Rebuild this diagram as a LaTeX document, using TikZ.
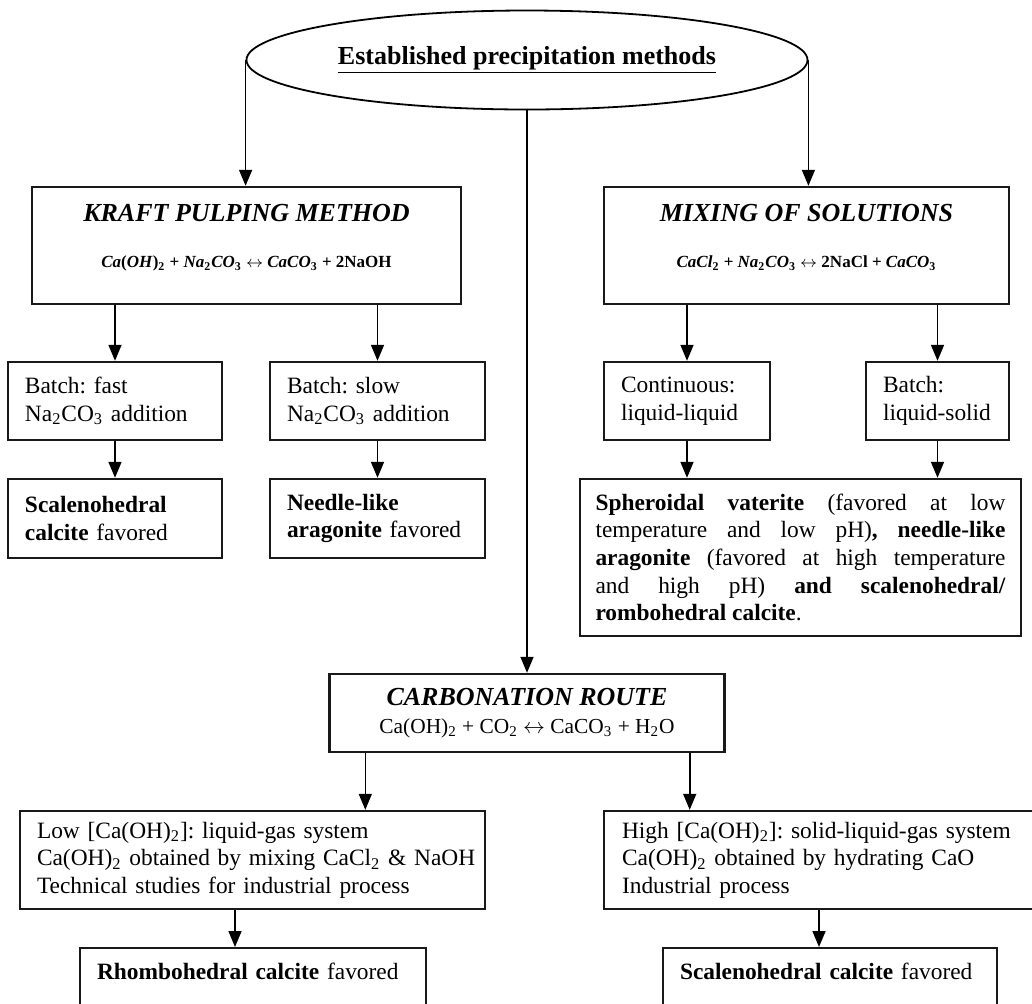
\documentclass[tikz,border=0pt]{standalone}
\usepackage{fontspec}
\setmainfont{Liberation Serif}
\usetikzlibrary{arrows.meta,shapes.geometric}
\frenchspacing

\def\boxlw{1.2pt}
\def\arrlw{0.8pt}
\newcommand{\chsub}[1]{\textsubscript{#1}}
\newcommand{\mtitle}[1]{{\fontsize{13}{14}\selectfont\bfseries\itshape #1}}

\tikzset{
  box/.style={draw=black!90,line width=\boxlw,inner sep=0pt,font=\fontsize{11.7}{13.8}\selectfont},
  lbox/.style={box,align=left,inner xsep=8.5pt},
  arr/.style={-{Triangle[length=8pt,width=6.5pt]},line width=\arrlw},
}

\begin{document}
\begin{tikzpicture}[x=0.5pt,y=-0.5pt]
  \useasboundingbox (0,0) rectangle (1032,1003);
  % root
  \node[ellipse,draw,line width=0.9pt,minimum width=280.5pt,minimum height=49.5pt,inner sep=0pt,
        font=\fontsize{13}{15}\selectfont\bfseries] (est) at (527,60) {\underline{Established precipitation methods}};
  % the three routes
  \node[box,align=center,minimum width=214.5pt,minimum height=58.5pt] (kraft) at (246.5,245.5)
    {\mtitle{KRAFT PULPING METHOD}\\[9.5pt]
     {\fontsize{8.5}{13.5}\selectfont\bfseries\textit{Ca}(\textit{OH})\chsub{2} + \textit{Na}\chsub{2}\textit{CO}\chsub{3} $\leftrightarrow$ \textit{CaCO}\chsub{3} + 2NaOH}\\[-8.5pt]\strut};
  \node[box,align=center,minimum width=202.5pt,minimum height=58.5pt] (mix) at (806.5,245.5)
    {\mtitle{MIXING OF SOLUTIONS}\\[9.5pt]
     {\fontsize{8.5}{13.5}\selectfont\bfseries\textit{CaCl}\chsub{2} + \textit{Na}\chsub{2}\textit{CO}\chsub{3} $\leftrightarrow$ 2NaCl + \textit{CaCO}\chsub{3}}\\[-8.5pt]\strut};
  \node[box,align=center,minimum width=197.5pt,minimum height=39pt] (carb) at (527,713)
    {\mtitle{CARBONATION ROUTE}\\
     {\fontsize{10.7}{13}\selectfont Ca(OH)\chsub{2} + CO\chsub{2} $\leftrightarrow$ CaCO\chsub{3} + H\chsub{2}O}};
  % kraft branch
  \node[lbox,text width=90pt,minimum height=39pt] (fast) at (115,401) {Batch: fast\\Na\chsub{2}CO\chsub{3} addition};
  \node[lbox,text width=90.5pt,minimum height=39pt] (slow) at (377.5,401) {Batch: slow\\Na\chsub{2}CO\chsub{3} addition};
  \node[lbox,text width=90pt,minimum height=39.5pt] (scal) at (115,518.5) {\textbf{Scalenohedral}\\\textbf{calcite} favored};
  \node[lbox,text width=90.5pt,minimum height=39.5pt] (needle) at (377.5,518.5) {\textbf{Needle-like}\\\textbf{aragonite} favored};
  % mixing branch
  \node[lbox,text width=66pt,minimum height=39pt] (cont) at (687,401) {Continuous:\\\mbox{liquid-liquid}};
  \node[lbox,text width=54.5pt,minimum height=39pt] (lsolid) at (937.5,401) {Batch:\\\mbox{liquid-solid}};
  \node[box,align=justify,text width=205pt,inner xsep=7.75pt,minimum height=78.5pt] (big) at (800.5,557.5)
    {\textbf{Spheroidal vaterite} (favored at low\linebreak temperature and low pH)\textbf{, needle-like}\linebreak
     \textbf{aragonite} (favored at high temperature\linebreak and high pH) \textbf{and scalenohedral/}\linebreak
     \textbf{rombohedral calcite}.};
  % carbonation branch
  \node[lbox,text width=215.5pt,minimum height=49pt] (low) at (252.5,860)
    {Low [Ca(OH)\chsub{2}]: liquid-gas system\\\mbox{Ca(OH)\chsub{2} obtained by mixing CaCl\chsub{2} \& NaOH}\\Technical studies for industrial process};
  \node[lbox,text width=207pt,inner xsep=9pt,minimum height=49pt] (high) at (829,860)
    {High [Ca(OH)\chsub{2}]: solid-liquid-gas system\\Ca(OH)\chsub{2} obtained by hydrating CaO\\Industrial process};
  \node[lbox,anchor=north,text width=156pt,text height=9pt,text depth=32pt,inner ysep=6.5pt] (rhomb) at (253,947)
    {\textbf{Rhombohedral calcite} favored};
  \node[lbox,anchor=north,text width=150pt,text height=9pt,text depth=32pt,inner ysep=6.5pt] (scal2) at (830,947)
    {\textbf{Scalenohedral calcite} favored};
  % connectors
  \draw[arr] (est.west) -- (est.west |- kraft.north);
  \draw[arr] (est.east) -- (est.east |- mix.north);
  \draw[arr] (est.south) -- (carb.north);
  \draw[arr] (fast.north |- kraft.south) -- (fast.north);
  \draw[arr] (slow.north |- kraft.south) -- (slow.north);
  \draw[arr] (cont.north |- mix.south) -- (cont.north);
  \draw[arr] (lsolid.north |- mix.south) -- (lsolid.north);
  \draw[arr] (fast.south) -- (scal.north);
  \draw[arr] (slow.south) -- (needle.north);
  \draw[arr] (cont.south) -- (cont.south |- big.north);
  \draw[arr] (lsolid.south) -- (lsolid.south |- big.north);
  \coordinate (cl) at ([xshift=18.5pt]carb.south west);
  \coordinate (cr) at ([xshift=-18pt]carb.south east);
  \draw[arr] (cl) -- (cl |- low.north);
  \draw[arr] (cr) -- (cr |- high.north);
  \coordinate (ra) at ([xshift=-9pt]rhomb.north);
  \coordinate (sa) at ([xshift=-5.5pt]scal2.north);
  \draw[arr] (ra |- low.south) -- (ra);
  \draw[arr] (sa |- high.south) -- (sa);
\end{tikzpicture}
\end{document}
